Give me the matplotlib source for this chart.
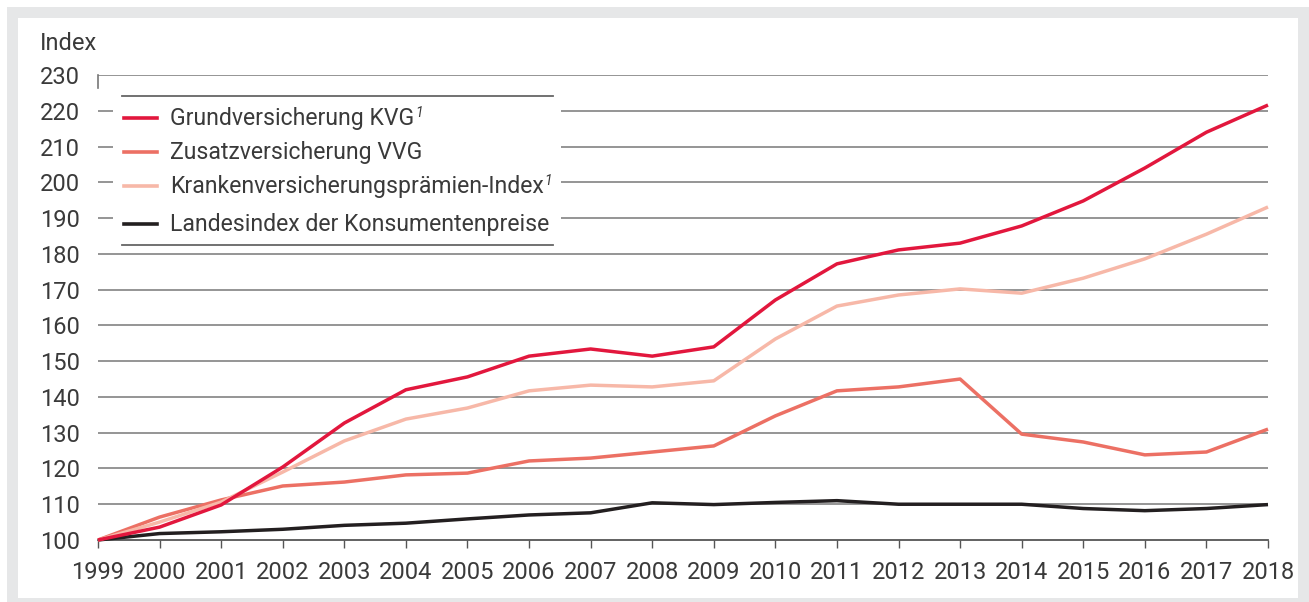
import matplotlib
matplotlib.use("Agg")
import matplotlib.pyplot as plt
from matplotlib.patches import Rectangle
from matplotlib.lines import Line2D
import matplotlib.font_manager as fm

years = list(range(1999, 2019))
kvg = [100, 103.6, 109.8, 120.4, 132.7, 142.0, 145.6, 151.4, 153.4, 151.4, 154.0,
       167.1, 177.2, 181.1, 183.0, 187.8, 194.8, 204.0, 214.0, 221.6]
vvg = [100, 106.4, 111.2, 115.1, 116.2, 118.2, 118.7, 122.1, 122.9, 124.6, 126.3,
       134.7, 141.7, 142.8, 145.0, 129.6, 127.4, 123.8, 124.6, 131.0]
kvpi = [100, 105.0, 110.6, 119.0, 127.7, 133.8, 136.9, 141.7, 143.3, 142.8, 144.5,
        156.2, 165.4, 168.5, 170.2, 169.0, 173.2, 178.6, 185.5, 193.1]
lik = [100, 101.8, 102.3, 103.0, 104.1, 104.7, 105.9, 107.0, 107.6, 110.4, 109.9,
       110.5, 111.0, 110.0, 110.0, 110.0, 108.8, 108.2, 108.8, 109.9]

labels = ["Grundversicherung KVG", "Zusatzversicherung VVG",
          "Krankenversicherungsprämien-Index", "Landesindex der Konsumentenpreise"]
footnote = [True, False, True, False]
colors = ["#e2173d", "#ec7064", "#f7b8a8", "#231f20"]
yticks = list(range(100, 240, 10))

avail = {f.name for f in fm.fontManager.ttflist}
fam = "Roboto" if "Roboto" in avail else "Liberation Sans"
plt.rcParams["font.family"] = [fam, "DejaVu Sans"]
plt.rcParams["font.weight"] = "normal"
txtc = "#3a3a3a"
fs = 17
lfs = 16.6

W, H = 1309, 602
fig = plt.figure(figsize=(W / 100, H / 100), dpi=100)
fig.patch.set_facecolor("white")
# grey frame
fig.add_artist(Rectangle((7 / W, 0), (W - 7) / W, (H - 7) / H, transform=fig.transFigure,
                         facecolor="#e6e7e8", edgecolor="none", zorder=-10))
fig.add_artist(Rectangle((18 / W, 4 / H), (1298 - 18) / W, (H - 18 - 4) / H,
                         transform=fig.transFigure, facecolor="white",
                         edgecolor="none", zorder=-9))

ax = fig.add_axes([98 / W, 62 / H, 1170 / W, 465 / H])
ax.set_facecolor("none")
ax.set_xlim(1999, 2018)
ax.set_ylim(100, 230)

for y in yticks[1:]:
    ax.axhline(y, color="#8c8c8c", lw=1.3, zorder=1)

series = [kvg, vvg, kvpi, lik]
order = [3, 1, 2, 0]
for i in order:
    ax.plot(years, series[i], color=colors[i], lw=2.5, zorder=3 + (i == 0),
            solid_joinstyle="round", solid_capstyle="butt", clip_on=False)

for s in ["top", "right", "left"]:
    ax.spines[s].set_visible(False)
ax.spines["bottom"].set_color("#555555")
ax.spines["bottom"].set_linewidth(1.3)
ax.spines["bottom"].set_zorder(2)

ax.set_xticks(years)
ax.set_xticklabels([str(y) for y in years])
ax.set_yticks(yticks)
ax.set_yticklabels([str(y) for y in yticks])
ax.tick_params(axis="x", direction="out", length=6, width=1, color="#555555",
               pad=9, labelsize=fs, labelcolor=txtc)
ax.tick_params(axis="y", length=0, pad=13, labelsize=fs, labelcolor=txtc)

# small mark at top of y-axis
ax.plot([1999, 1999], [230, 226.5], color="#777777", lw=1.2, clip_on=False, zorder=2)

fig.text(40 / W, 1 - 43 / H, "Index", ha="left", va="center", fontsize=fs, color=txtc)

# legend (manual)
def axx(px):
    return (px - 98) / 1170

def axy(py):
    return (540 - py) / 465

ax.add_patch(Rectangle((axx(113), axy(252)), axx(561) - axx(113), axy(86) - axy(252),
                       transform=ax.transAxes, facecolor="white", edgecolor="none",
                       zorder=6))
for py in [96, 245]:
    ax.add_line(Line2D([axx(122), axx(553)], [axy(py), axy(py)], transform=ax.transAxes,
                       color="#666666", lw=1.3, zorder=7))
entry_y = [118, 152, 186, 224]
texts = []
for i, py in enumerate(entry_y):
    ax.add_line(Line2D([axx(124), axx(157)], [axy(py), axy(py)], transform=ax.transAxes,
                       color=colors[i], lw=2.6, zorder=7))
    t = ax.text(axx(170), axy(py), labels[i], transform=ax.transAxes, ha="left",
                va="center", fontsize=lfs, color=txtc, zorder=8)
    texts.append(t)

fig.canvas.draw()
r = fig.canvas.get_renderer()
inv = ax.transAxes.inverted()
for i, t in enumerate(texts):
    if footnote[i]:
        bb = t.get_window_extent(r)
        x0, _ = inv.transform((bb.x1 + 1, 0))
        ax.text(x0, axy(entry_y[i] - 5), "1", transform=ax.transAxes, ha="left",
                va="center", fontsize=10, style="italic", color=txtc, zorder=8)

fig.savefig("out.png", dpi=100)
